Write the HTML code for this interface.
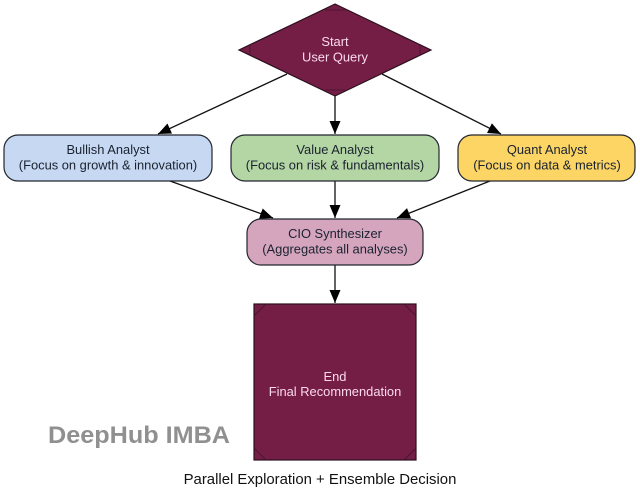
<!DOCTYPE html>
<html>
<head>
<meta charset="utf-8">
<style>
html,body{margin:0;padding:0;background:#fff}
body{width:640px;height:497px;overflow:hidden}
svg{display:block;font-family:"Liberation Sans",Arial,sans-serif}
</style>
</head>
<body>
<svg width="640" height="497" viewBox="0 0 640 497" xmlns="http://www.w3.org/2000/svg">
<defs>
<marker id="a" markerUnits="userSpaceOnUse" markerWidth="14" markerHeight="12" refX="13" refY="5.5" orient="auto">
<path d="M0,0 L13,5.5 L0,11 Z" fill="#000"/>
</marker>
</defs>
<g stroke="#111" stroke-width="1.3" fill="none">
<line x1="287" y1="74" x2="158" y2="134" marker-end="url(#a)"/>
<line x1="335" y1="96" x2="335" y2="134" marker-end="url(#a)"/>
<line x1="382" y1="74" x2="501" y2="134" marker-end="url(#a)"/>
<line x1="170" y1="181" x2="273" y2="218" marker-end="url(#a)"/>
<line x1="335" y1="181" x2="335" y2="218" marker-end="url(#a)"/>
<line x1="490" y1="181" x2="397" y2="218" marker-end="url(#a)"/>
<line x1="335" y1="265" x2="335" y2="303" marker-end="url(#a)"/>
</g>
<polygon points="335,4 431,50 335,96 239,50" fill="#741d45" stroke="#2c1020" stroke-width="1.2"/>
<g stroke="#4a1530" stroke-width="1" fill="none">
<line x1="325" y1="10" x2="345" y2="10"/>
<line x1="325" y1="90" x2="345" y2="90"/>
<line x1="250" y1="45" x2="250" y2="55"/>
<line x1="420" y1="45" x2="420" y2="55"/>
</g>
<rect x="4" y="135" width="208" height="46" rx="14" fill="#c7d9f2" stroke="#22262e" stroke-width="1.2"/>
<rect x="231" y="135" width="208" height="46" rx="14" fill="#b4d5a4" stroke="#22262e" stroke-width="1.2"/>
<rect x="458" y="135" width="177" height="46" rx="14" fill="#fcd565" stroke="#22262e" stroke-width="1.2"/>
<rect x="247" y="219" width="176" height="46" rx="14" fill="#d5a5bd" stroke="#22262e" stroke-width="1.2"/>
<rect x="254" y="304" width="162" height="156" fill="#741d45" stroke="#2c1020" stroke-width="1.2"/>
<g stroke="#4a1530" stroke-width="1" fill="none">
<line x1="254" y1="316" x2="266" y2="304"/>
<line x1="404" y1="304" x2="416" y2="316"/>
<line x1="254" y1="448" x2="266" y2="460"/>
<line x1="404" y1="460" x2="416" y2="448"/>
</g>
<g font-size="12.9" text-anchor="middle" fill="#fbd9ec">
<text x="335" y="46">Start</text>
<text x="335" y="61.5">User Query</text>
<text x="335" y="381">End</text>
<text x="335" y="396">Final Recommendation</text>
</g>
<g font-size="12.9" text-anchor="middle" fill="#1a2230">
<text x="108" y="154">Bullish Analyst</text>
<text x="108" y="169.5">(Focus on growth &amp; innovation)</text>
<text x="335" y="154">Value Analyst</text>
<text x="335" y="169.5">(Focus on risk &amp; fundamentals)</text>
<text x="547" y="154">Quant Analyst</text>
<text x="547" y="169.5">(Focus on data &amp; metrics)</text>
<text x="335" y="238">CIO Synthesizer</text>
<text x="335" y="253.5">(Aggregates all analyses)</text>
</g>
<text x="320" y="484" font-size="14.9" text-anchor="middle" fill="#111">Parallel Exploration + Ensemble Decision</text>
<text x="48" y="443" font-size="24" font-weight="bold" fill="#909090" textLength="182" lengthAdjust="spacingAndGlyphs">DeepHub IMBA</text>
</svg>
</body>
</html>
